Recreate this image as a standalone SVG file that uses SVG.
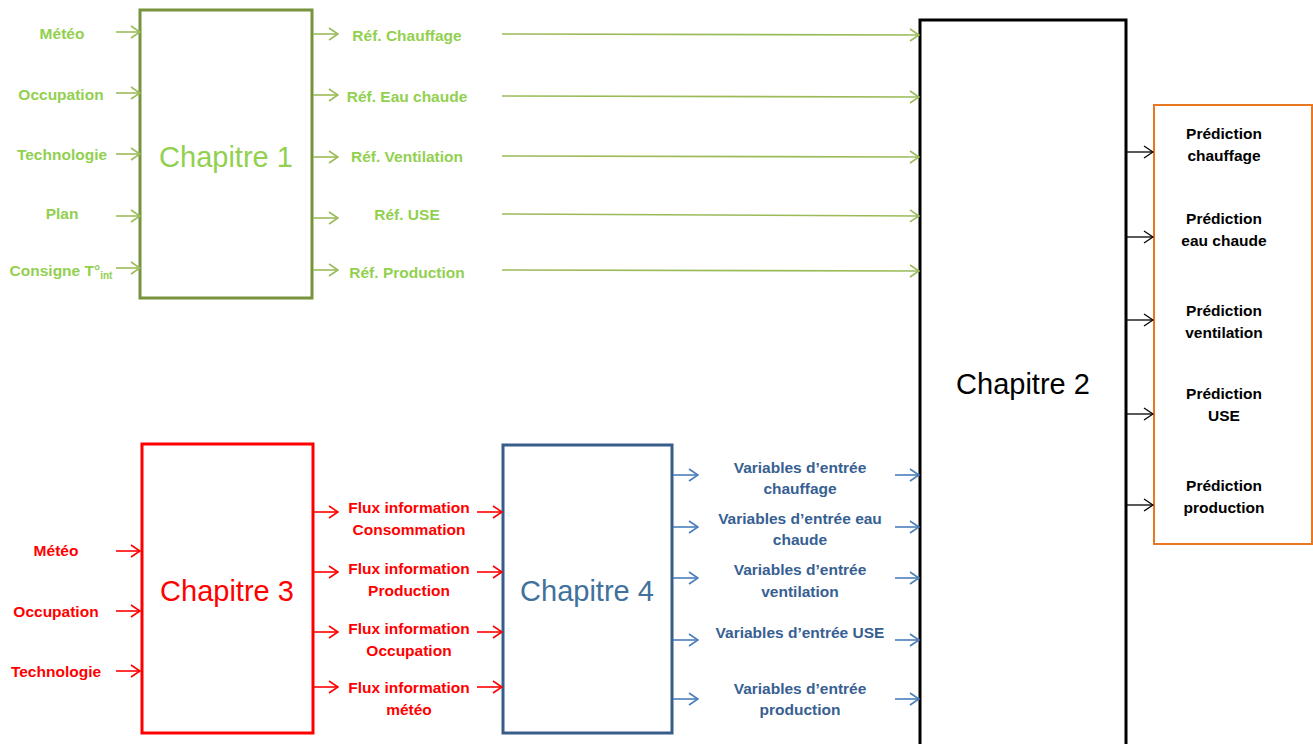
<svg xmlns="http://www.w3.org/2000/svg" width="1313" height="744" viewBox="0 0 1313 744">
<style>
.lbl{font-family:"Liberation Sans",Arial,sans-serif;font-weight:bold;font-size:15.5px;text-anchor:middle;dominant-baseline:central}
.big{font-family:"Liberation Sans",Arial,sans-serif;font-size:29px;text-anchor:middle;dominant-baseline:central}
.g{fill:#92D050}.r{fill:#FF0000}.b{fill:#376092}.k{fill:#000}
.cg{stroke:#9BBB59;stroke-width:1.6;fill:none;marker-end:url(#mg)}
.cr{stroke:#FF0000;stroke-width:1.6;fill:none;marker-end:url(#mr)}
.cb{stroke:#4A7EBB;stroke-width:1.6;fill:none;marker-end:url(#mb)}
.ck{stroke:#000;stroke-width:1.3;fill:none;marker-end:url(#mk)}
</style>
<defs>
<marker id="mg" viewBox="0 0 11 14" refX="10" refY="7" markerWidth="11" markerHeight="14" markerUnits="userSpaceOnUse" orient="auto"><path d="M1,1 L10,7 L1,13" fill="none" stroke="#9BBB59" stroke-width="1.6"/></marker>
<marker id="mr" viewBox="0 0 11 14" refX="10" refY="7" markerWidth="11" markerHeight="14" markerUnits="userSpaceOnUse" orient="auto"><path d="M1,1 L10,7 L1,13" fill="none" stroke="#FF0000" stroke-width="1.6"/></marker>
<marker id="mb" viewBox="0 0 11 14" refX="10" refY="7" markerWidth="11" markerHeight="14" markerUnits="userSpaceOnUse" orient="auto"><path d="M1,1 L10,7 L1,13" fill="none" stroke="#4A7EBB" stroke-width="1.6"/></marker>
<marker id="mk" viewBox="0 0 11 14" refX="10" refY="7" markerWidth="11" markerHeight="14" markerUnits="userSpaceOnUse" orient="auto"><path d="M1,1 L10,7 L1,13" fill="none" stroke="#000" stroke-width="1.3"/></marker>
</defs>
<rect width="1313" height="744" fill="#fff"/>

<g id="chapitre1">
<rect x="140" y="10" width="172" height="288" fill="#fff" stroke="#77933C" stroke-width="3"/>
<text class="big g" x="226" y="157">Chapitre 1</text>
</g>
<g id="chapitre2">
<rect x="920" y="20" width="206" height="730" fill="#fff" stroke="#000" stroke-width="3"/>
<text class="big k" x="1023" y="384">Chapitre 2</text>
</g>
<g id="predictions">
<rect x="1154" y="105" width="158" height="439" fill="#fff" stroke="#E87722" stroke-width="2"/>
<text class="lbl k"><tspan x="1224" y="133">Prédiction</tspan><tspan x="1224" y="155">chauffage</tspan></text>
<text class="lbl k"><tspan x="1224" y="218">Prédiction</tspan><tspan x="1224" y="240">eau chaude</tspan></text>
<text class="lbl k"><tspan x="1224" y="310">Prédiction</tspan><tspan x="1224" y="332">ventilation</tspan></text>
<text class="lbl k"><tspan x="1224" y="393">Prédiction</tspan><tspan x="1224" y="415">USE</tspan></text>
<text class="lbl k"><tspan x="1224" y="485">Prédiction</tspan><tspan x="1224" y="507">production</tspan></text>
</g>
<g id="chapitre3">
<rect x="142" y="444" width="171" height="289" fill="#fff" stroke="#FF0000" stroke-width="3"/>
<text class="big r" x="227" y="591">Chapitre 3</text>
</g>
<g id="chapitre4">
<rect x="503" y="445" width="169" height="288" fill="#fff" stroke="#385D8A" stroke-width="3"/>
<text class="big" fill="#41719C" x="587" y="591">Chapitre 4</text>
</g>

<g id="ch1-inputs">
<text class="lbl g" x="62" y="33">Météo</text>
<text class="lbl g" x="61" y="94">Occupation</text>
<text class="lbl g" x="62" y="154">Technologie</text>
<text class="lbl g" x="62" y="213">Plan</text>
<text class="lbl g" x="61" y="270">Consigne T°<tspan font-size="10" dy="5">int</tspan></text>
</g>
<g id="ch1-outputs">
<text class="lbl g" x="407" y="35">Réf. Chauffage</text>
<text class="lbl g" x="407" y="96">Réf. Eau chaude</text>
<text class="lbl g" x="407" y="156">Réf. Ventilation</text>
<text class="lbl g" x="407" y="214">Réf. USE</text>
<text class="lbl g" x="407" y="272">Réf. Production</text>
</g>
<g id="ch3-inputs">
<text class="lbl r" x="56" y="550">Météo</text>
<text class="lbl r" x="56" y="611">Occupation</text>
<text class="lbl r" x="56" y="671">Technologie</text>
</g>
<g id="ch3-outputs">
<text class="lbl r"><tspan x="409" y="507">Flux information</tspan><tspan x="409" y="529">Consommation</tspan></text>
<text class="lbl r"><tspan x="409" y="568">Flux information</tspan><tspan x="409" y="590">Production</tspan></text>
<text class="lbl r"><tspan x="409" y="628">Flux information</tspan><tspan x="409" y="650">Occupation</tspan></text>
<text class="lbl r"><tspan x="409" y="687">Flux information</tspan><tspan x="409" y="709">météo</tspan></text>
</g>
<g id="ch4-outputs">
<text class="lbl b"><tspan x="800" y="467">Variables d’entrée</tspan><tspan x="800" y="488">chauffage</tspan></text>
<text class="lbl b"><tspan x="800" y="518">Variables d’entrée eau</tspan><tspan x="800" y="539">chaude</tspan></text>
<text class="lbl b"><tspan x="800" y="569">Variables d’entrée</tspan><tspan x="800" y="591">ventilation</tspan></text>
<text class="lbl b" x="800" y="632">Variables d’entrée USE</text>
<text class="lbl b"><tspan x="800" y="688">Variables d’entrée</tspan><tspan x="800" y="709">production</tspan></text>
</g>

<g id="connectors">
<path class="cg" d="M116,32H140"/>
<path class="cg" d="M116,93H140"/>
<path class="cg" d="M116,154H140"/>
<path class="cg" d="M116,216H140"/>
<path class="cg" d="M116,268H140"/>
<path class="cg" d="M313,34H338"/>
<path class="cg" d="M313,95H338"/>
<path class="cg" d="M313,157H338"/>
<path class="cg" d="M313,218H338"/>
<path class="cg" d="M313,270H338"/>
<path class="cg" d="M502,34L919,35"/>
<path class="cg" d="M502,96L919,97"/>
<path class="cg" d="M502,156L919,157"/>
<path class="cg" d="M502,214L919,216"/>
<path class="cg" d="M502,270L919,271"/>
<path class="cr" d="M116,551H140"/>
<path class="cr" d="M116,611H140"/>
<path class="cr" d="M116,671H140"/>
<path class="cr" d="M314,512H338"/>
<path class="cr" d="M314,572H338"/>
<path class="cr" d="M314,632H338"/>
<path class="cr" d="M314,687H338"/>
<path class="cr" d="M477,512H502"/>
<path class="cr" d="M477,572H502"/>
<path class="cr" d="M477,632H502"/>
<path class="cr" d="M477,687H502"/>
<path class="cb" d="M673,475H698"/>
<path class="cb" d="M673,527H698"/>
<path class="cb" d="M673,578H698"/>
<path class="cb" d="M673,640H698"/>
<path class="cb" d="M673,699H698"/>
<path class="cb" d="M895,475H919"/>
<path class="cb" d="M895,527H919"/>
<path class="cb" d="M895,578H919"/>
<path class="cb" d="M895,640H919"/>
<path class="cb" d="M895,699H919"/>
<path class="ck" d="M1127,152H1153"/>
<path class="ck" d="M1127,237H1153"/>
<path class="ck" d="M1127,320H1153"/>
<path class="ck" d="M1127,414H1153"/>
<path class="ck" d="M1127,505H1153"/>
</g>
</svg>
